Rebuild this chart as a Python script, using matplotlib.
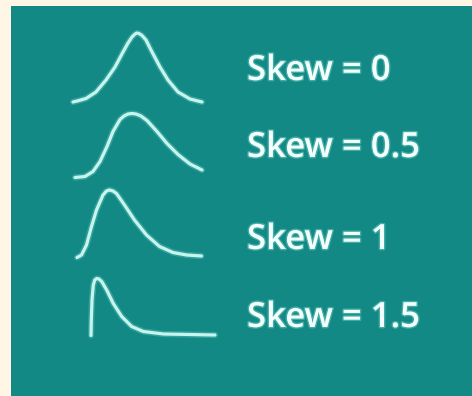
import matplotlib.pyplot as plt
import matplotlib.patheffects as pe
from matplotlib.patches import Rectangle

# labels for each curve, top to bottom
skews = ['0', '0.5', '1', '1.5']
labels = [f'Skew = {s}' for s in skews]

# curve shapes: x offset from left end, height above baseline (px)
curve_x = [
    [0, 6, 13, 23, 33, 42, 50, 55, 59, 62, 64, 66, 69, 73, 78, 87, 95, 105, 117, 129],
    [0, 10, 18, 25, 32, 38, 45, 49, 53, 57, 61, 66, 72, 82, 92, 103, 115, 127],
    [0, 4.5, 9.5, 14.5, 19.5, 26, 29.5, 32.5, 36, 39.5, 47.5, 57.5, 69.5, 82.5, 96, 109.5, 124.5],
    [0, 0.3, 1, 2.3, 3.8, 5.7, 8, 10.7, 15.7, 22.3, 30.7, 40.7, 52.3, 72.3, 99, 124],
]
curve_h = [
    [0, 1.5, 3.5, 10, 22, 35, 50, 59, 65, 68, 69, 68.5, 66.5, 62, 52, 35, 22, 10, 3, 0],
    [0, 1, 6, 16, 31, 46, 58, 61.5, 63.5, 64, 63.5, 61.5, 57, 46, 34, 23, 13.5, 7.5],
    [0, 2.5, 12.5, 31, 47.5, 62.5, 66.5, 67.5, 66.5, 64, 52.5, 37.5, 22.5, 11, 5, 2.5, 1.5],
    [0, 15.5, 35.5, 50.5, 55.5, 57, 56.5, 54, 45.5, 32, 19, 9, 4, 1.5, 1, 0.5],
]

# layout (pixels)
curve_left = [73, 75, 77, 91]
curve_base = [102, 177.5, 257.5, 335.5]
label_x = 247
label_y = [71, 148, 240, 318]

bg = '#fff6e6'
panel = '#128985'
line_col = '#c8f4ee'
text_col = '#f2fffd'

fig = plt.figure(figsize=(4.72, 3.96), dpi=100)
fig.patch.set_facecolor(bg)
ax = fig.add_axes([0, 0, 1, 1])
ax.set_xlim(0, 472)
ax.set_ylim(396, 0)
ax.axis('off')

ax.add_patch(Rectangle((11, 6), 472, 400, facecolor=panel, edgecolor='none'))

glow = [pe.withStroke(linewidth=4.5, foreground='#6fd0c6', alpha=0.35)]

for xs, hs, x0, b0 in zip(curve_x, curve_h, curve_left, curve_base):
    ax.plot([x0 + v for v in xs], [b0 - v for v in hs], color=line_col, lw=2.3,
            solid_joinstyle='round', solid_capstyle='round', path_effects=glow)

for lab, y in zip(labels, label_y):
    ax.text(label_x, y, lab, color=text_col, fontsize=25, family='Open Sans',
            fontweight='semibold', va='center', ha='left',
            path_effects=[pe.withStroke(linewidth=2, foreground='#8fe0d6', alpha=0.4)])

fig.savefig('out.png', dpi=100, facecolor=bg)
